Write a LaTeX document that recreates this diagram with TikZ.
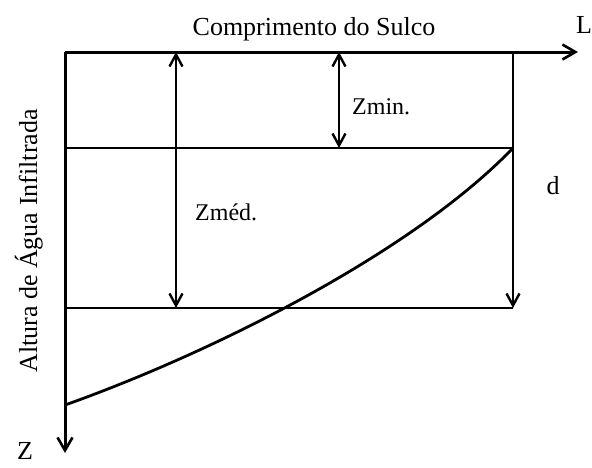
\documentclass[tikz,border=0pt]{standalone}
\usepackage{fontspec}
\setmainfont{Liberation Serif}
\usepackage{tikz}
\usetikzlibrary{
	arrows.meta,									% estilos de setas
	positioning,									% posicionamento de nós
}

\begin{document}
\begin{tikzpicture}[x=1pt, y=-1pt,
		eixo/.style={line width=3pt, -{Straight Barb[length=13pt, width=15pt, line width=2.6pt]}},
		linha/.style={line width=2.8pt},
		cota/.style={line width=2.6pt, {Straight Barb[length=12pt, width=13pt, line width=2.4pt]}-{Straight Barb[length=12pt, width=13pt, line width=2.4pt]}},
		seta/.style={line width=2.6pt, -{Straight Barb[length=12pt, width=13pt, line width=2.4pt]}},
		texto/.style={inner sep=0pt, font=\fontsize{26}{30}\selectfont},
		rotulo/.style={inner sep=0pt, font=\fontsize{24}{28}\selectfont},
	]
		\useasboundingbox (0,0) rectangle (592,467);
		% pontos da figura
		\coordinate (O)    at (65,52);
		\coordinate (Lfim) at (578,52);
		\coordinate (Zfim) at (65,453);
		\coordinate (Rtop) at (513,52);
		\coordinate (Rmin) at (513,148);
		\coordinate (Rmed) at (513,308);
		\coordinate (Emin) at (65,148);
		\coordinate (Emed) at (65,308);
		\coordinate (Ezf)  at (65,405);
		\coordinate (Amin) at (339,52);
		\coordinate (Bmin) at (339,148);
		\coordinate (Amed) at (176,52);
		\coordinate (Bmed) at (176,308);
		% textos
		\node[texto, anchor=base] (titulo) at (314,35) {Comprimento do Sulco};
		\node[texto, anchor=base west] (eixoL) at (576,33) {L};
		\node[texto, anchor=base west] (eixoZ) at (17,459) {Z};
		\node[texto, anchor=base] (prof) at (553,194) {d};
		\node[texto, anchor=base, rotate=90] (altura) at (37,241) {Altura de Água Infiltrada};
		\node[rotulo, anchor=base west] (zmin) at (352,114) {Zmin.};
		\node[rotulo, anchor=base west] (zmed) at (195,220) {Zméd.};
		% eixos
		\draw[eixo] (O) -- (Lfim);
		\draw[eixo] (O) -- (Zfim);
		% linhas horizontais
		\draw[linha] (Emin) -- (Rmin);
		\draw[linha] (Emed) -- (Rmed);
		% cotas
		\draw[seta] (Rtop) -- (Rmed);
		\draw[cota] (Amin) -- (Bmin);
		\draw[cota] (Amed) -- (Bmed);
		% frente de infiltração
		\draw[linha] (Ezf) .. controls (214,352) and (413,252) .. (Rmin);
	\end{tikzpicture}
\end{document}
